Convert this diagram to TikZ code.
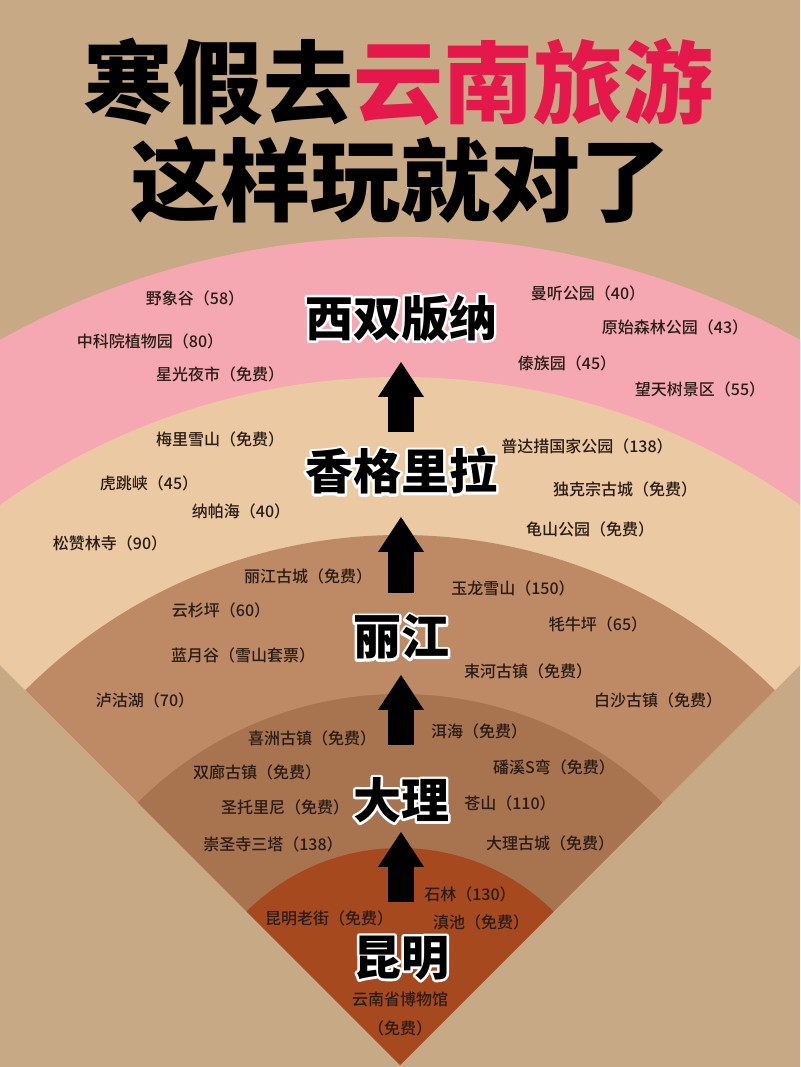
\documentclass[tikz,border=0pt]{standalone}
\usepackage{fontspec}
\usepackage{tikz}
\usetikzlibrary{arrows.meta}
\newfontfamily\cjk{Noto Sans CJK SC Medium}
\newfontfamily\cjkheavy{Noto Sans CJK SC Black}
\definecolor{bg}{RGB}{200,169,133}
\definecolor{banna}{RGB}{245,168,178}
\definecolor{shangri}{RGB}{235,201,163}
\definecolor{lijiang}{RGB}{189,138,101}
\definecolor{dali}{RGB}{168,115,79}
\definecolor{kunming}{RGB}{166,73,31}
\definecolor{hot}{RGB}{228,24,74}
\definecolor{ink}{RGB}{40,28,20}
\tikzset{
  spot/.style={font=\cjk\fontsize{16}{29}\selectfont, text=ink, inner sep=0pt, align=center},
  city/.style={font=\cjkheavy\fontsize{48}{48}\selectfont, inner sep=0pt},
  hop/.style={line width=26pt, -{Triangle[width=46pt,length=35pt,line width=0pt]}},
}
% white rim: stroked copy under the filled text
\newcommand{\rimmed}[1]{\rlap{\special{pdf:literal direct 1 1 1 RG 5 w 1 j 1 Tr}#1\special{pdf:literal direct 0 Tr}}#1}
\newcommand{\ring}[2]{\fill[#1] (apex) -- ++(45:#2pt) arc[start angle=45,end angle=135,radius=#2pt] -- cycle;}
\newcommand{\spot}[4]{\node[spot] (#1) at (#2,#3) {#4};}
\newcommand{\city}[3]{\node[city] (#1) at (401,#2) {\rimmed{#3}};}
\newcommand{\hop}[4]{\draw[hop,shorten <=#3pt,shorten >=#4pt] (#1.center)--(#2.center);}

\begin{document}
\begin{tikzpicture}[x=1pt,y=1pt]
\clip (0,0) rectangle (800,1067);
\fill[bg] (0,0) rectangle (800,1067);
\coordinate (apex) at (400,2);
\ring{banna}{828}\ring{shangri}{688}\ring{lijiang}{530}\ring{dali}{371}\ring{kunming}{217}
% title
\node[font=\cjkheavy\fontsize{90}{90}\selectfont, inner sep=0pt] (title) at (398,985) {寒假去\textcolor{hot}{云南旅游}};
\node[font=\cjkheavy\fontsize{90}{90}\selectfont, inner sep=0pt] (subtitle) at (400,887) {这样玩就对了};
% cities
\city{xs}{749}{西双版纳}\city{xg}{596}{香格里拉}\city{lj}{430}{丽江}\city{dl}{267}{大理}\city{km}{109}{昆明}
\hop{km}{dl}{56}{32}\hop{dl}{lj}{55}{38}\hop{lj}{xg}{44}{46}\hop{xg}{xs}{39}{44}
% Xishuangbanna
\spot{yxg}{195}{769}{野象谷（58）}\spot{zky}{150}{726}{中科院植物园（80）}\spot{xgys}{220}{693}{星光夜市（免费）}
\spot{mt}{588}{774}{曼听公园（40）}\spot{ysl}{675}{740}{原始森林公园（43）}\spot{dzy}{567}{704}{傣族园（45）}\spot{wts}{700}{678}{望天树景区（55）}
% Shangri-La
\spot{mlxs}{220}{628}{梅里雪山（免费）}\spot{htx}{149}{584}{虎跳峡（45）}\spot{nph}{241}{556}{纳帕海（40）}\spot{szl}{110}{524}{松赞林寺（90）}
\spot{pdc}{587}{621}{普达措国家公园（138）}\spot{dkz}{625}{578}{独克宗古城（免费）}\spot{gs}{590}{538}{龟山公园（免费）}
% Lijiang
\spot{ljgc}{308}{491}{丽江古城（免费）}\spot{ysp}{221}{457}{云杉坪（60）}\spot{lyg}{243}{412}{蓝月谷（雪山套票）}\spot{lgh}{145}{367}{泸沽湖（70）}
\spot{ylxs}{513}{479}{玉龙雪山（150）}\spot{mnp}{598}{443}{牦牛坪（65）}\spot{shgz}{528}{396}{束河古镇（免费）}\spot{bsgz}{658}{367}{白沙古镇（免费）}
% Dali
\spot{xzgz}{312}{329}{喜洲古镇（免费）}\spot{slgz}{257}{295}{双廊古镇（免费）}\spot{stln}{285}{260}{圣托里尼（免费）}\spot{cst}{273}{223}{崇圣寺三塔（138）}
\spot{eh}{479}{336}{洱海（免费）}\spot{pxs}{554}{300}{磻溪S弯（免费）}\spot{cs}{510}{264}{苍山（110）}\spot{dlgc}{550}{224}{大理古城（免费）}
% Kunming
\spot{sl}{470}{173}{石林（130）}\spot{kmlj}{329}{149}{昆明老街（免费）}\spot{dc}{481}{145}{滇池（免费）}\spot{ynbwg}{400}{53}{云南省博物馆\\（免费）}
\end{tikzpicture}
\end{document}
